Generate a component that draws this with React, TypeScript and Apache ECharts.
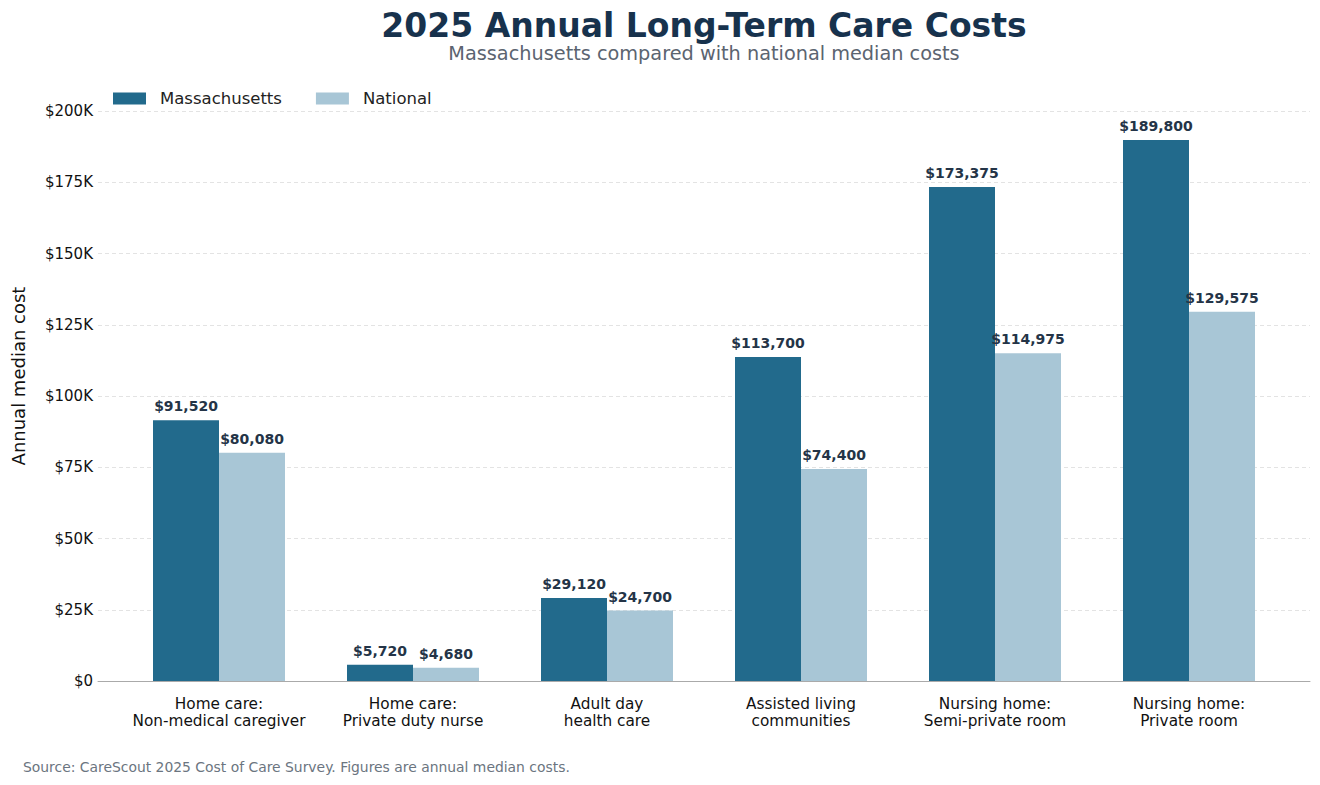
import React, { useEffect, useRef } from "react";
import * as echarts from "echarts";

const categories = [
  "Home care:\nNon-medical caregiver",
  "Home care:\nPrivate duty nurse",
  "Adult day\nhealth care",
  "Assisted living\ncommunities",
  "Nursing home:\nSemi-private room",
  "Nursing home:\nPrivate room",
];
const massachusetts = [91520, 5720, 29120, 113700, 173375, 189800];
const national = [80080, 4680, 24700, 74400, 114975, 129575];
const yTicks = [0, 25000, 50000, 75000, 100000, 125000, 150000, 175000, 200000];

const FONT = "DejaVu Sans";

const fmtMoney = (v: number) => "$" + v.toLocaleString("en-US");
const fmtTick = (v: number) => (v === 0 ? "$0" : "$" + v / 1000 + "K");

export default function App() {
  const ref = useRef<HTMLDivElement>(null);
  useEffect(() => {
    if (!ref.current) return;
    const chart = echarts.init(ref.current, null, { renderer: "svg" });
    const yMax = yTicks[yTicks.length - 1];
    const yInterval = yTicks[1] - yTicks[0];
    const labelStyle = {
      show: true,
      position: "top" as const,
      distance: 7,
      fontFamily: FONT,
      fontSize: 14,
      fontWeight: "bold" as const,
      color: "#243447",
      formatter: (p: any) => fmtMoney(p.value),
    };
    chart.setOption({
      animation: false,
      textStyle: { fontFamily: FONT },
      title: [
        {
          text: "2025 Annual Long-Term Care Costs",
          left: 704,
          textAlign: "center",
          top: 9,
          padding: 0,
          textStyle: {
            fontFamily: FONT,
            fontSize: 33,
            lineHeight: 32,
            fontWeight: "bold",
            color: "#17324d",
          },
        },
        {
          text: "Massachusetts compared with national median costs",
          left: 704,
          textAlign: "center",
          top: 44,
          padding: 0,
          textStyle: {
            fontFamily: FONT,
            fontSize: 19.3,
            lineHeight: 19,
            fontWeight: "normal",
            color: "#5b6470",
          },
        },
        {
          text: "Source: CareScout 2025 Cost of Care Survey. Figures are annual median costs.",
          left: 23,
          top: 760,
          padding: 0,
          textStyle: { fontFamily: FONT, fontSize: 13.9, fontWeight: "normal", color: "#6b7580" },
        },
      ],
      legend: {
        left: 113,
        top: 90,
        padding: 0,
        itemWidth: 33,
        itemHeight: 12,
        itemGap: 34,
        icon: "rect",
        textStyle: { fontFamily: FONT, fontSize: 16.5, color: "#222", padding: [0, 0, 0, 9] },
        data: ["Massachusetts", "National"],
      },
      grid: [
        { left: 98, right: 10, top: 111, bottom: 104 },
        { left: 122, right: 34, top: 111, bottom: 104 },
      ],
      xAxis: [
        {
          type: "value",
          gridIndex: 0,
          min: 0,
          max: 1,
          axisLine: { show: true, onZero: false, lineStyle: { color: "#aaaaaa", width: 1 } },
          axisTick: { show: false },
          axisLabel: { show: false },
          splitLine: { show: false },
        },
        {
          type: "category",
          gridIndex: 1,
          data: categories,
          axisLine: { show: false },
          axisTick: { show: false },
          axisLabel: {
            fontFamily: FONT,
            fontSize: 15.3,
            color: "#111",
            margin: 14,
            lineHeight: 17.5,
            interval: 0,
          },
        },
      ],
      yAxis: [
        {
          type: "value",
          gridIndex: 0,
          min: 0,
          max: yMax,
          interval: yInterval,
          name: "Annual median cost",
          nameLocation: "middle",
          nameGap: 71,
          nameTextStyle: {
            fontFamily: FONT,
            fontSize: 18,
            color: "#111",
            padding: [0, 0, 0, 40],
          },
          axisLine: { show: false },
          axisTick: { show: false },
          axisLabel: {
            fontFamily: FONT,
            fontSize: 15,
            color: "#111",
            margin: 5,
            formatter: fmtTick,
          },
          splitLine: { show: true, lineStyle: { color: "#e3e3e3", type: [4, 3], width: 1 } },
        },
        {
          type: "value",
          gridIndex: 1,
          min: 0,
          max: yMax,
          interval: yInterval,
          axisLine: { show: false },
          axisTick: { show: false },
          axisLabel: { show: false },
          splitLine: { show: false },
        },
      ],
      series: [
        {
          name: "Massachusetts",
          type: "bar",
          xAxisIndex: 1,
          yAxisIndex: 1,
          data: massachusetts,
          barWidth: 66,
          barGap: "0%",
          itemStyle: { color: "#226a8c" },
          label: labelStyle,
        },
        {
          name: "National",
          type: "bar",
          xAxisIndex: 1,
          yAxisIndex: 1,
          data: national,
          barWidth: 66,
          barGap: "0%",
          itemStyle: { color: "#a8c6d6" },
          label: labelStyle,
        },
      ],
    });
    return () => chart.dispose();
  }, []);
  return (
    <div
      ref={ref}
      style={{ position: "fixed", left: 0, top: 0, width: 1320, height: 785, background: "#fff" }}
    />
  );
}
